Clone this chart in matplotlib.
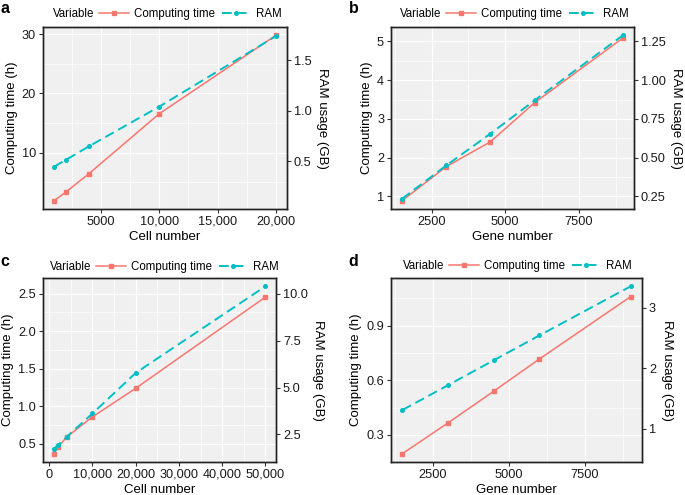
import numpy as np
import matplotlib
matplotlib.use("Agg")
import matplotlib.pyplot as plt
from matplotlib.lines import Line2D

plt.rcParams['font.family'] = ['Liberation Sans', 'DejaVu Sans']

RED = '#F8766D'
TEAL = '#00BFC4'

# panel a: cell number
a_x = [1000, 2000, 4000, 10000, 20000]
a_time = [1.88, 3.33, 6.47, 16.55, 29.8]
a_ram = [0.447, 0.513, 0.649, 1.04, 1.738]

# panel b: gene number
b_x = [1500, 3000, 4500, 6000, 9000]
b_time = [0.89, 1.77, 2.41, 3.42, 5.09]
b_ram = [0.235, 0.45, 0.655, 0.87, 1.29]

# panel c: cell number
c_x = [1000, 2000, 4000, 10000, 20000, 50000]
c_time = [0.37, 0.455, 0.59, 0.86, 1.24, 2.455]
c_ram = [1.73, 1.93, 2.37, 3.62, 5.78, 10.39]

# panel d: gene number
d_x = [1500, 3000, 4500, 6000, 9000]
d_time = [0.197, 0.366, 0.54, 0.717, 1.06]
d_ram = [1.31, 1.72, 2.13, 2.54, 3.35]

panels = [
    dict(letter='a', x=a_x, t=a_time, r=a_ram, k=0.0586, xlabel='Cell number',
         xt=[5000, 10000, 15000, 20000], xtl=['5000', '10,000', '15,000', '20,000'],
         yt=[10, 20, 30], ytl=['10', '20', '30'],
         rt=[0.5, 1.0, 1.5], rtl=['0.5', '1.0', '1.5'],
         box=(43, 27, 287, 209), leg=(53, 14), lab=13),
    dict(letter='b', x=b_x, t=b_time, r=b_ram, k=0.25, xlabel='Gene number',
         xt=[2500, 5000, 7500], xtl=['2500', '5000', '7500'],
         yt=[1, 2, 3, 4, 5], ytl=['1', '2', '3', '4', '5'],
         rt=[0.25, 0.5, 0.75, 1.0, 1.25], rtl=['0.25', '0.50', '0.75', '1.00', '1.25'],
         box=(391, 27, 634, 209), leg=(400, 14), lab=13),
    dict(letter='c', x=c_x, t=c_time, r=c_ram, k=4.0, xlabel='Cell number',
         xt=[0, 10000, 20000, 30000, 40000, 50000],
         xtl=['0', '10,000', '20,000', '30,000', '40,000', '50,000'],
         yt=[0.5, 1.0, 1.5, 2.0, 2.5], ytl=['0.5', '1.0', '1.5', '2.0', '2.5'],
         rt=[2.5, 5.0, 7.5, 10.0], rtl=['2.5', '5.0', '7.5', '10.0'],
         box=(43, 278, 276, 462), leg=(50, 267), lab=266),
    dict(letter='d', x=d_x, t=d_time, r=d_ram, k=3.0, xlabel='Gene number',
         xt=[2500, 5000, 7500], xtl=['2500', '5000', '7500'],
         yt=[0.3, 0.6, 0.9], ytl=['0.3', '0.6', '0.9'],
         rt=[1, 2, 3], rtl=['1', '2', '3'],
         box=(391, 278, 642, 462), leg=(403, 266), lab=266),
]

W, H = 685, 495
fig = plt.figure(figsize=(W / 100, H / 100), dpi=100)

for p in panels:
    x0, y0, x1, y1 = p['box']
    ax = fig.add_axes([x0 / W, 1 - y1 / H, (x1 - x0) / W, (y1 - y0) / H])
    ax2 = ax.twinx()
    ax.set_facecolor('#F0F0F0')

    t = np.array(p['t'])
    r_scaled = np.array(p['r']) / p['k']
    lo = min(t.min(), r_scaled.min())
    hi = max(t.max(), r_scaled.max())
    pad = (hi - lo) * 0.05
    ylo, yhi = lo - pad, hi + pad
    xs = np.array(p['x'])
    xpad = (xs.max() - xs.min()) * 0.05
    xlo, xhi = xs.min() - xpad, xs.max() + xpad

    # grid (major + minor at midpoints)
    xt = p['xt']
    xstep = xt[1] - xt[0]
    xminor = [v for v in [u - xstep / 2 for u in xt] + [xt[-1] + xstep / 2] if xlo < v < xhi]
    yt = p['yt']
    ystep = yt[1] - yt[0]
    yminor = [v for v in [u - ystep / 2 for u in yt] + [yt[-1] + ystep / 2] if ylo < v < yhi]
    ax.set_xticks(xt)
    ax.set_xticklabels(p['xtl'])
    ax.set_yticks(yt)
    ax.set_yticklabels(p['ytl'])
    ax.set_xticks(xminor, minor=True)
    ax.set_yticks(yminor, minor=True)
    ax.grid(True, which='major', color='white', lw=0.9)
    ax.grid(True, which='minor', color='white', lw=0.5)
    ax.tick_params(which='minor', length=0)
    ax.set_axisbelow(True)

    ax.plot(p['x'], p['t'], color=RED, lw=1.1, marker='s', ms=3.2, zorder=3)
    ax2.plot(p['x'], p['r'], color=TEAL, lw=1.4, dashes=(5, 2.6), marker='o', ms=2.6, zorder=3)

    ax2.set_yticks(p['rt'])
    ax2.set_yticklabels(p['rtl'])

    ax.set_xlim(xlo, xhi)
    ax.set_ylim(ylo, yhi)
    ax2.set_ylim(ylo * p['k'], yhi * p['k'])

    for a in (ax, ax2):
        for s in a.spines.values():
            s.set_color('#222222')
            s.set_linewidth(1.0)
        a.tick_params(which='major', length=3, width=0.8, color='#333333',
                      labelsize=9.2, labelcolor='#1a1a1a', pad=2)

    ax.set_xlabel(p['xlabel'], fontsize=9.5, labelpad=2)
    ax.set_ylabel('Computing time (h)', fontsize=9.5, labelpad=3)
    ax2.set_ylabel('RAM usage (GB)', fontsize=9.5, rotation=270, labelpad=12)

    # panel letter
    fig.text((x0 - 43) / W + 0.001, 1 - p['lab'] / H, p['letter'], fontsize=11.5,
             fontweight='bold', va='baseline', ha='left')

    # legend above the panel
    lx, ly = p['leg']
    fig.text(lx / W, 1 - ly / H, 'Variable', fontsize=8.3, va='center', ha='left')
    handles = [Line2D([], [], color=RED, lw=1.1, marker='s', ms=3),
               Line2D([], [], color=TEAL, lw=1.4, dashes=(5, 2.6), marker='o', ms=2.6)]
    fig.legend(handles, ['Computing time', 'RAM'], ncol=2, frameon=False,
               loc='center left', bbox_to_anchor=((lx + 46) / W, 1 - ly / H),
               fontsize=8.3, handlelength=2.6, handletextpad=0.4,
               columnspacing=0.6, borderpad=0, borderaxespad=0)

fig.savefig('out.png', dpi=100)
